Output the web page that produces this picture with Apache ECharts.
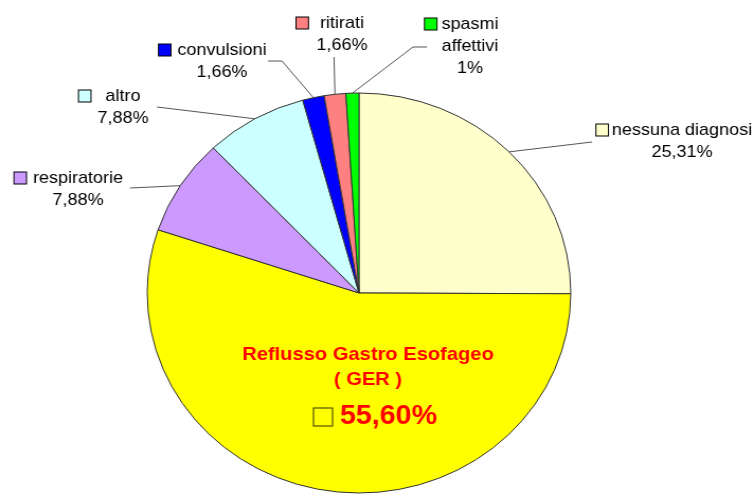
<!DOCTYPE html>
<html>
<head>
<meta charset="utf-8">
<style>
  html, body { margin: 0; padding: 0; background: #fff; overflow: hidden; }
  /* the chart is drawn narrower and widened, so the pie reads as a flattened disc */
  #chart { width: 713px; height: 494px; transform: scaleX(1.059); transform-origin: 0 0; }
</style>
<script src="https://cdn.jsdelivr.net/npm/echarts@6/dist/echarts.min.js"></script>
</head>
<body>
<div id="chart"></div>
<script>
// Diagnosis categories, clockwise from twelve o'clock
const categories = [
  'nessuna diagnosi',
  'Reflusso Gastro Esofageo\n( GER )',
  'respiratorie',
  'altro',
  'convulsioni',
  'ritirati',
  'spasmi\naffettivi'
];
// Share of cases (%)
const shares = [25.31, 55.60, 7.88, 7.88, 1.66, 1.66, 1];
const colors = ['#FFFFCC', '#FFFF00', '#CC99FF', '#CCFFFF', '#0000FF', '#FF8080', '#00FF00'];

// horizontal widening applied to the chart element
const STRETCH = 1.059;

// Label placement in page pixels: centre of the text block, gap after the
// colour key, and where the leader line meets the label (optional elbow first).
const labelPlacement = [
  { x: 682, y: 141, gap: 4,  line: [[592, 142]] },
  { x: 368, y: 342, gap: 8,  line: null },
  { x: 78,  y: 189, gap: 7,  line: [[130, 188]] },
  { x: 123, y: 107, gap: 15, line: [[157, 107]] },
  { x: 222, y: 61,  gap: 7,  line: [[282, 61], [268, 61]] },
  { x: 342, y: 34,  gap: 12, line: [[334, 57]] },
  { x: 470, y: 46,  gap: 5,  line: [[413, 47], [427, 47]] }
];
const px = v => v / STRETCH;

const FONT = '"Liberation Sans", Arial, sans-serif';
const KEY_W = px(11.5), KEY_H = 11;

function pct(v) {
  const s = Number.isInteger(v) ? String(v) : v.toFixed(2);
  return s.replace('.', ',') + '%';
}

// rich styles: one colour key per slice plus spacers
const rich = {
  t: { fontFamily: FONT, fontSize: 17, color: '#000', lineHeight: 22, align: 'center' },
  gt: { fontFamily: FONT, fontSize: 19, fontWeight: 'bold', color: '#FF0000', lineHeight: 25, align: 'center' },
  gp: { fontFamily: FONT, fontSize: 27, fontWeight: 'bold', color: '#FF0000', lineHeight: 50, align: 'center' },
  gk: { width: px(18), height: 17, backgroundColor: '#FFFF00', borderColor: '#333300', borderWidth: 1, align: 'center' },
  gpad: { width: px(15), height: 1, align: 'center' },
  ggap: { width: px(8), height: 1, align: 'center' }
};
categories.forEach((c, i) => {
  rich['k' + i] = { width: KEY_W, height: KEY_H, backgroundColor: colors[i], borderColor: '#000', borderWidth: 1, align: 'center' };
  rich['g' + i] = { width: px(labelPlacement[i].gap), height: 1, align: 'center' };
  rich['s' + i] = { width: KEY_W + px(labelPlacement[i].gap), height: 1, align: 'center' };
});

function outerLabel(p) {
  const i = p.dataIndex;
  const lines = categories[i].split('\n');
  let out = `{k${i}|}{g${i}|}{t|${lines[0]}}{s${i}|}`;
  for (let j = 1; j < lines.length; j++) out += `\n{t|${lines[j]}}`;
  out += `\n{t|${pct(shares[i])}}`;
  return out;
}

function gerLabel(p) {
  const i = p.dataIndex;
  const lines = categories[i].split('\n');
  return lines.map(l => `{gt|${l}}`).join('\n') + `\n{gpad|}{gk|}{ggap|}{gp|${pct(shares[i])}}`;
}

const data = categories.map((name, i) => {
  const item = { name, value: shares[i], itemStyle: { color: colors[i] } };
  if (i === 1) {
    item.label = { position: 'inside', formatter: gerLabel };
    item.labelLine = { show: false };
  }
  return item;
});

const chart = echarts.init(document.getElementById('chart'), null, { renderer: 'canvas' });
chart.setOption({
  backgroundColor: '#fff',
  animation: false,
  series: [{
    type: 'pie',
    center: [px(359), 293],
    radius: 200,
    startAngle: 90,
    clockwise: true,
    avoidLabelOverlap: false,
    itemStyle: { borderColor: '#333', borderWidth: 1 },
    label: {
      show: true,
      position: 'outside',
      formatter: outerLabel,
      rich: rich
    },
    labelLine: {
      show: true,
      length: 10,
      length2: 10,
      lineStyle: { color: '#555', width: 1 }
    },
    emphasis: { disabled: true },
    labelLayout: function (params) {
      const L = labelPlacement[params.dataIndex];
      if (!L.line) {
        return { x: px(L.x), y: L.y, align: 'center', verticalAlign: 'top' };
      }
      const res = { x: px(L.x), y: L.y, align: 'center', verticalAlign: 'middle' };
      const start = params.labelLinePoints ? params.labelLinePoints[0] : null;
      if (start) res.labelLinePoints = [start].concat(L.line.map(p => [px(p[0]), p[1]]));
      return res;
    },
    data: data
  }]
});
</script>
</body>
</html>
